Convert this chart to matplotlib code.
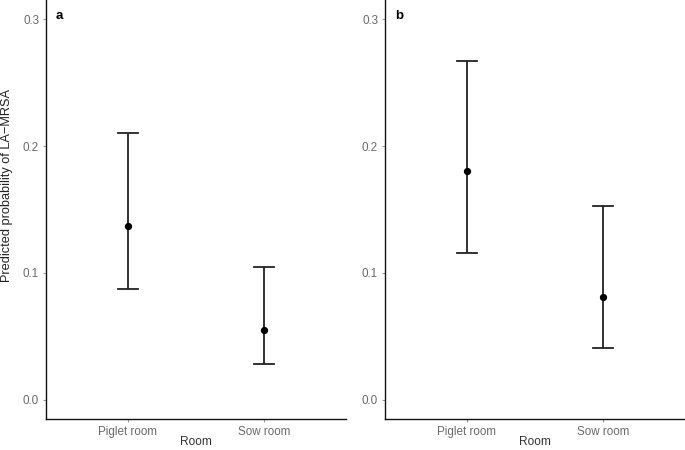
import matplotlib
matplotlib.use("Agg")
import matplotlib.pyplot as plt

plt.rcParams['font.family'] = ['Liberation Sans', 'DejaVu Sans']

categories = ["Piglet room", "Sow room"]
panel_labels = ["a", "b"]
est_a = [0.137, 0.055]
low_a = [0.087, 0.028]
high_a = [0.210, 0.105]
est_b = [0.180, 0.081]
low_b = [0.116, 0.041]
high_b = [0.267, 0.153]
yticks = [0.0, 0.1, 0.2, 0.3]
ytick_labels = ["0.0", "0.1", "0.2", "0.3"]

W, H = 685, 450
fig = plt.figure(figsize=(W / 100, H / 100), dpi=100)

panels = [(46, est_a, low_a, high_a, "a"), (385, est_b, low_b, high_b, "b")]
for left_px, est, low, high, lab in panels:
    ax = fig.add_axes([left_px / W, 1 - 419 / H, 300 / W, 419 / H])
    xs = list(range(1, len(categories) + 1))
    for x, e, lo, hi in zip(xs, est, low, high):
        ax.plot([x, x], [lo, hi], color="#222222", lw=1.3, solid_capstyle="butt")
        ax.plot([x - 0.075, x + 0.075], [lo, lo], color="#222222", lw=1.3)
        ax.plot([x - 0.075, x + 0.075], [hi, hi], color="#222222", lw=1.3)
    ax.scatter(xs, est, s=18, color="black", zorder=3)
    ax.set_xlim(0.4, 2.6)
    ax.set_ylim(-0.015, 0.315)
    ax.set_xticks(xs)
    ax.set_xticklabels(categories)
    ax.set_yticks(yticks)
    ax.set_yticklabels(ytick_labels)
    ax.tick_params(axis="both", colors="#9a9a9a", labelcolor="#6a6a6a",
                   labelsize=8.4, length=2, width=0.8, pad=3)
    for s in ["top", "right"]:
        ax.spines[s].set_visible(False)
    for s in ["left", "bottom"]:
        ax.spines[s].set_linewidth(1.0)
        ax.spines[s].set_color("#111111")
    ax.set_xlabel("Room", fontsize=8.6, labelpad=-1.5, color="#333333")
    ax.text(10 / 300, 0.962, lab, transform=ax.transAxes, fontsize=9.5,
            fontweight="bold", ha="left", va="center")

fig.text(7.5 / W, 1 - 185 / H, "Predicted probability of LA\u2212MRSA",
         rotation=90, ha="center", va="center", fontsize=9.2, color="#222222")

fig.savefig("out.png", dpi=100)
